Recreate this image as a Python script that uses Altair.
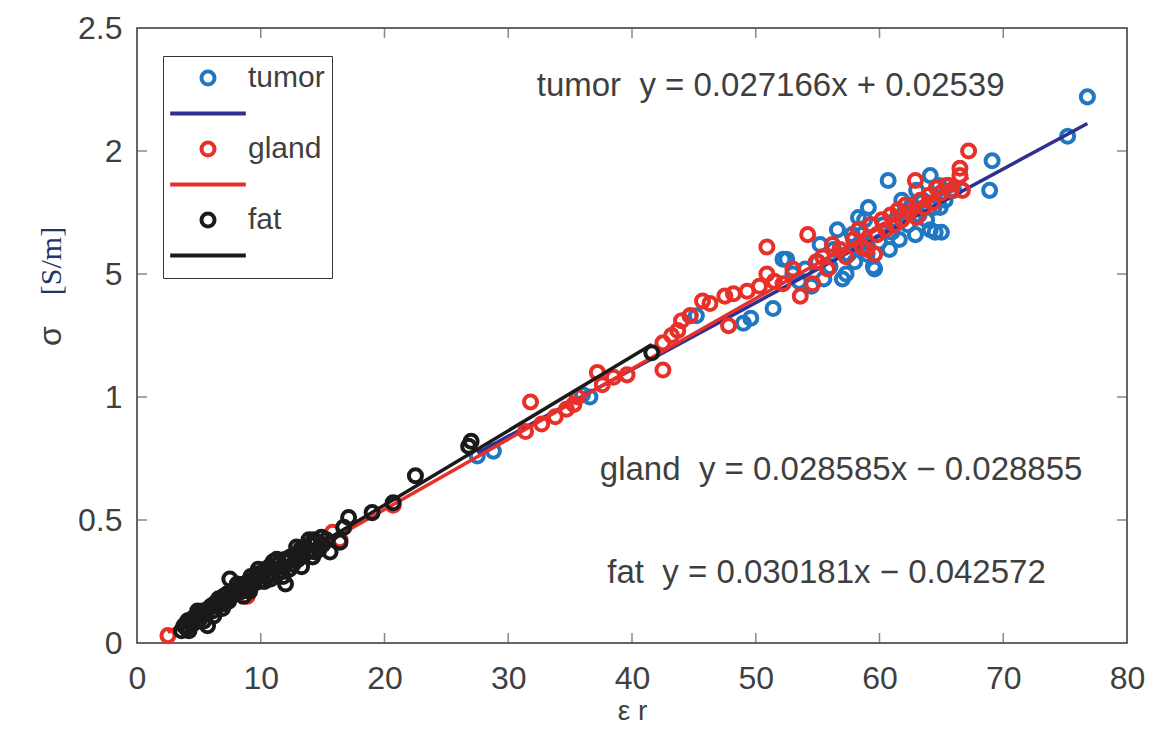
import altair as alt
import pandas as pd

# ---------------- data ----------------
tumor_x = [27.5, 28.8, 36.0, 36.6, 44.7, 45.2, 49.0, 49.6, 51.4, 52.2, 52.5,
           53.0, 53.5, 54.0, 54.5, 55.0, 55.2, 55.5, 56.0, 56.3, 56.6, 57.0,
           57.3, 57.5, 57.8, 58.0, 58.3, 58.3, 58.6, 58.8, 59.0, 59.1, 59.5,
           59.6, 60.0, 60.3, 60.7, 60.8, 61.0, 61.3, 61.6, 61.8, 62.0, 62.3,
           62.6, 62.9, 63.0, 63.2, 63.5, 63.8, 64.1, 64.1, 64.4, 64.5, 64.8,
           64.9, 65.0, 65.0, 65.3, 65.6, 66.0, 68.9, 69.1, 75.2, 76.8]
tumor_y = [0.76, 0.78, 1.01, 1.00, 1.33, 1.33, 1.30, 1.32, 1.36, 1.56, 1.56,
           1.50, 1.47, 1.52, 1.45, 1.55, 1.62, 1.48, 1.53, 1.60, 1.68, 1.48,
           1.50, 1.58, 1.66, 1.55, 1.73, 1.62, 1.66, 1.72, 1.58, 1.77, 1.53,
           1.52, 1.63, 1.70, 1.88, 1.60, 1.67, 1.72, 1.64, 1.80, 1.75, 1.70,
           1.78, 1.66, 1.84, 1.74, 1.80, 1.72, 1.68, 1.90, 1.77, 1.67, 1.86,
           1.77, 1.67, 1.83, 1.80, 1.86, 1.84, 1.84, 1.96, 2.06, 2.22]

gland_x = [2.5, 8.9, 15.8, 16.4, 20.7, 31.4, 31.8, 32.7, 33.8, 34.7, 35.3,
           35.6, 37.2, 37.6, 38.5, 39.6, 42.5, 42.5, 43.2, 43.7, 44.0, 44.7,
           45.7, 46.3, 47.5, 47.8, 48.2, 49.3, 50.3, 50.9, 50.9, 51.5, 52.2,
           53.0, 53.6, 54.2, 54.6, 54.9, 55.4, 55.8, 56.2, 56.8, 57.3, 57.9,
           58.3, 58.6, 59.0, 59.3, 59.6, 59.8, 60.2, 60.5, 60.9, 61.2, 61.5,
           61.8, 62.1, 62.4, 62.9, 63.0, 63.3, 63.6, 64.0, 64.3, 64.6, 65.0,
           65.4, 65.8, 66.5, 66.5, 66.7, 67.2]
gland_y = [0.03, 0.19, 0.45, 0.42, 0.56, 0.86, 0.98, 0.89, 0.92, 0.95, 0.97,
           1.00, 1.10, 1.05, 1.08, 1.09, 1.11, 1.22, 1.25, 1.27, 1.31, 1.33,
           1.39, 1.38, 1.41, 1.29, 1.42, 1.43, 1.45, 1.50, 1.61, 1.47, 1.46,
           1.52, 1.41, 1.66, 1.46, 1.55, 1.57, 1.52, 1.62, 1.60, 1.57, 1.64,
           1.68, 1.61, 1.60, 1.70, 1.58, 1.66, 1.72, 1.68, 1.74, 1.70, 1.76,
           1.72, 1.78, 1.75, 1.88, 1.73, 1.80, 1.77, 1.82, 1.79, 1.85, 1.83,
           1.86, 1.84, 1.90, 1.93, 1.84, 2.00]

fat_x = [3.6, 3.8, 4.0, 4.1, 4.3, 4.5, 4.6, 4.8, 5.0, 5.1, 5.3, 5.5, 5.7,
         5.8, 6.0, 6.1, 6.3, 6.5, 6.6, 6.8, 7.0, 7.1, 7.3, 7.5, 7.6, 7.8,
         8.0, 8.2, 8.4, 8.5, 8.7, 8.9, 9.0, 9.2, 9.4, 9.5, 9.7, 9.9, 10.0,
         10.2, 10.4, 10.5, 10.7, 10.9, 11.0, 11.2, 11.4, 11.5, 11.7, 12.0,
         12.0, 12.2, 12.4, 12.6, 12.8, 13.0, 13.2, 13.4, 13.6, 13.8, 14.0,
         14.2, 14.3, 14.5, 14.7, 15.0, 15.3, 15.6, 16.4, 16.7, 17.1, 19.0,
         20.7, 22.5, 26.8, 27.0, 41.6,
         4.2, 4.9, 5.4, 6.2, 6.9, 7.4, 8.1, 8.6, 9.1, 9.8, 10.3, 10.8, 11.3,
         11.8, 12.3, 12.9, 13.3, 13.9, 14.4, 14.9]
fat_y = [0.05, 0.07, 0.06, 0.09, 0.08, 0.10, 0.08, 0.11, 0.12, 0.10, 0.13,
         0.12, 0.07, 0.14, 0.15, 0.13, 0.16, 0.15, 0.18, 0.17, 0.19, 0.16,
         0.20, 0.26, 0.19, 0.21, 0.20, 0.22, 0.23, 0.21, 0.24, 0.22, 0.25,
         0.27, 0.24, 0.26, 0.28, 0.25, 0.27, 0.29, 0.30, 0.27, 0.31, 0.28,
         0.33, 0.30, 0.32, 0.29, 0.31, 0.24, 0.34, 0.33, 0.35, 0.32, 0.36,
         0.34, 0.38, 0.36, 0.39, 0.37, 0.40, 0.35, 0.42, 0.41, 0.38, 0.40,
         0.42, 0.37, 0.41, 0.47, 0.51, 0.53, 0.57, 0.68, 0.80, 0.82, 1.18,
         0.05, 0.13, 0.09, 0.11, 0.14, 0.17, 0.24, 0.19, 0.21, 0.30, 0.25,
         0.26, 0.34, 0.27, 0.30, 0.39, 0.31, 0.42, 0.37, 0.43]

series = ["tumor", "gland", "fat"]
fit_slope = [0.027166, 0.028585, 0.030181]
fit_intercept = [0.02539, -0.028855, -0.042572]
fit_xmin = [27.5, 2.5, 3.6]
fit_xmax = [76.8, 67.2, 41.6]

legend_keys = ["tumor", "tumor_fit", "gland", "gland_fit", "fat", "fat_fit"]
legend_colors = ["#1f78c1", "#2e3192", "#e8302a", "#e8302a", "#1a1a1a", "#1a1a1a"]
legend_shapes = ["circle", "M-5.8,0H5.8", "circle", "M-5.8,0H5.8", "circle", "M-5.8,0H5.8"]

NB = "\u00a0"
ann_text = ["tumor" + NB * 2 + "y = 0.027166x + 0.02539",
            "gland" + NB * 2 + "y = 0.028585x \u2212 0.028855",
            "fat" + NB * 2 + "y = 0.030181x \u2212 0.042572"]
ann_x = [32.3, 37.4, 38.0]
ann_y = [2.264, 0.703, 0.285]

x_ticks = [10, 20, 30, 40, 50, 60, 70]
y_ticks = [0.5, 1.0, 1.5, 2.0]
x_labels = [0, 10, 20, 30, 40, 50, 60, 70, 80]
y_labels = [0, 0.5, 1.0, 1.5, 2.0, 2.5]

# ---------------- tables ----------------
pts = {
    "tumor": pd.DataFrame({"x": tumor_x, "y": tumor_y, "key": "tumor"}),
    "gland": pd.DataFrame({"x": gland_x, "y": gland_y, "key": "gland"}),
    "fat": pd.DataFrame({"x": fat_x, "y": fat_y, "key": "fat"}),
}
fits = {}
for s, a, b, x0, x1 in zip(series, fit_slope, fit_intercept, fit_xmin, fit_xmax):
    fits[s] = pd.DataFrame({"x": [x0, x1], "y": [a * x0 + b, a * x1 + b], "key": s + "_fit"})

FONT = "Liberation Sans"
TXT = "#3f3f3f"
XT = "\u03b5 r"
YT = "\u03c3"

xscale = alt.Scale(domain=[0, 80], nice=False)
yscale = alt.Scale(domain=[0, 2.5], nice=False)
cscale = alt.Scale(domain=legend_keys, range=legend_colors)
sscale = alt.Scale(domain=legend_keys, range=legend_shapes)

xaxis = alt.Axis(values=x_labels, grid=False, domain=False, ticks=False,
                 labelFont=FONT, labelFontSize=32, labelColor=TXT, labelPadding=20,
                 labelFlush=False, titleFont=FONT, titleFontSize=28, titleColor=TXT,
                 titleFontWeight="normal", titlePadding=3)
yaxis = alt.Axis(values=y_labels, grid=False, domain=False, ticks=False, format="~g",
                 labelFont=FONT, labelFontSize=32, labelColor=TXT, labelPadding=15,
                 labelFlush=False, labelExpr="datum.value == 1.5 ? '5' : datum.label",
                 titleFont=FONT, titleFontSize=32, titleColor=TXT,
                 titleFontWeight="normal", titlePadding=10)


def X(field):
    return alt.X(field, scale=xscale, axis=xaxis, title=XT)


def Y(field):
    return alt.Y(field, scale=yscale, axis=yaxis, title=YT)


legend = alt.Legend(title=None, orient="none", legendX=26, legendY=28,
                    strokeColor="#333333", fillColor="white", padding=7,
                    symbolOffset=23, labelOffset=25, rowPadding=5.5,
                    symbolSize=170, symbolStrokeWidth=4,
                    labelFont=FONT, labelFontSize=30, labelColor=TXT,
                    labelLimit=300, cornerRadius=0,
                    labelExpr="indexof(datum.label, '_fit') >= 0 ? ' ' : datum.label")

layers = []
for s in series:
    layers.append(
        alt.Chart(pts[s]).mark_point(filled=False, size=170, strokeWidth=4, opacity=1)
        .encode(x=X("x:Q"), y=Y("y:Q"),
                color=alt.Color("key:N", scale=cscale, legend=legend),
                shape=alt.Shape("key:N", scale=sscale, legend=legend))
    )
    layers.append(
        alt.Chart(fits[s]).mark_line(strokeWidth=3.5)
        .encode(x=X("x:Q"), y=Y("y:Q"),
                color=alt.Color("key:N", scale=cscale, legend=None))
    )

# inward ticks on all four sides
tick_style = dict(color="#555555", thickness=1.5, size=10)
xt = pd.DataFrame({"v": x_ticks})
yt = pd.DataFrame({"v": y_ticks})
layers.append(alt.Chart(xt).mark_tick(orient="vertical", yOffset=-5, **tick_style)
              .encode(x=X("v:Q"), y=alt.datum(0, scale=yscale, axis=yaxis, title=YT)))
layers.append(alt.Chart(xt).mark_tick(orient="vertical", yOffset=5, **tick_style)
              .encode(x=X("v:Q"), y=alt.datum(2.5, scale=yscale, axis=yaxis, title=YT)))
layers.append(alt.Chart(yt).mark_tick(orient="horizontal", xOffset=5, **tick_style)
              .encode(y=Y("v:Q"), x=alt.datum(0, scale=xscale, axis=xaxis, title=XT)))
layers.append(alt.Chart(yt).mark_tick(orient="horizontal", xOffset=-5, **tick_style)
              .encode(y=Y("v:Q"), x=alt.datum(80, scale=xscale, axis=xaxis, title=XT)))

# equations
ann = pd.DataFrame({"t": ann_text, "x": ann_x, "y": ann_y})
layers.append(alt.Chart(ann).mark_text(align="left", baseline="middle", font=FONT,
                                      fontSize=33, color=TXT)
              .encode(x=X("x:Q"), y=Y("y:Q"), text="t:N"))

# unit part of the y title
unit = pd.DataFrame({"t": ["[S/m]"]})
layers.append(alt.Chart(unit).mark_text(angle=270, align="center", baseline="middle",
                                       font="Liberation Serif", fontSize=30, color="#223366")
              .encode(x=alt.value(-85), y=alt.value(233), text="t:N"))

chart = alt.layer(*layers).properties(
    width=990, height=615,
    autosize=alt.AutoSizeParams(type="none"),
    padding={"left": 137, "top": 28, "right": 39, "bottom": 86},
    background="white",
).configure_view(stroke="#333333", strokeWidth=1.5)

chart.save("out.html", embed_options={"renderer": "svg", "actions": False})
